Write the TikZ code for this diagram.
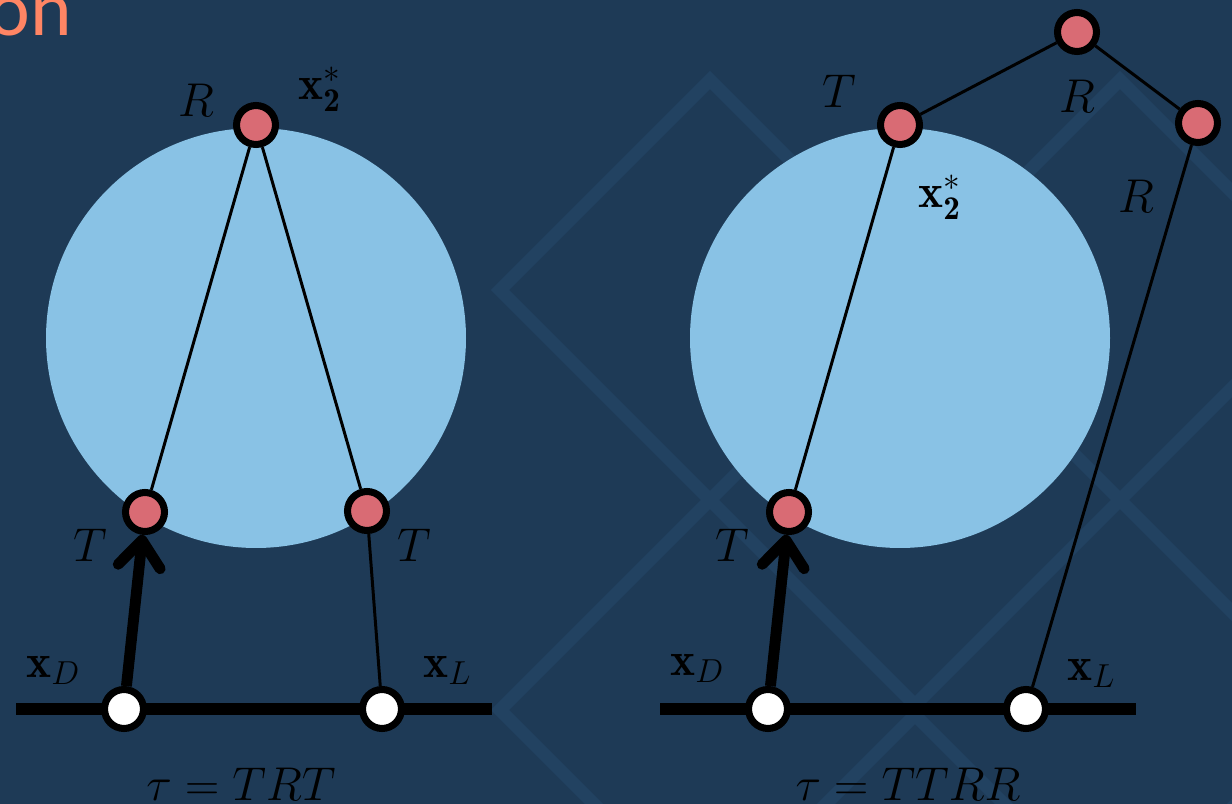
\RequirePackage{fix-cm}
\documentclass[tikz,border=0pt]{standalone}
\usepackage{fontspec}
\newfontfamily\titlefont{Carlito}
\usepackage{amsmath}
\usetikzlibrary{arrows.meta,positioning}
\definecolor{cBack}{RGB}{30,58,86}
\definecolor{cBand}{RGB}{34,66,97}
\definecolor{cDisk}{RGB}{137,194,229}
\definecolor{cPink}{RGB}{217,107,116}
\definecolor{cTitle}{RGB}{255,133,100}
\tikzset{
  basept/.style={circle,draw=black,line width=4pt,minimum size=0.78cm,inner sep=0pt},
  pinknode/.style={basept,fill=cPink},
  whitenode/.style={basept,fill=white},
  lbl/.style={font=\fontsize{27}{32}\selectfont,inner sep=0pt},
  thinln/.style={line width=1.7pt},
  railln/.style={line width=6.8pt},
  thkarr/.style={line width=6.2pt,-{Straight Barb[round,length=15pt,width=24pt]}},
  band/.style={draw=cBand,line width=0.26cm}
}

\begin{document}
\begin{tikzpicture}[x=0.02cm,y=-0.02cm]

  % frame and background
  \useasboundingbox (0,0) rectangle (1232,804);
  \clip (0,0) rectangle (1232,804);
  \fill[cBack] (0,0) rectangle (1232,804);
  \foreach \cx/\cy in {710/290,1120/290,1530/290,710/710,1120/710,1530/710}
    \draw[band] (\cx,\cy-210) -- (\cx+210,\cy) -- (\cx,\cy+210)
      -- (\cx-210,\cy) -- cycle;

  \node[font=\titlefont\fontsize{45}{50}\selectfont,text=cTitle,
        anchor=base west,inner sep=0pt] (title) at (-12,36) {on};

  % left: tau = TRT
  \fill[cDisk] (256,338) circle[radius=210];
  \coordinate (railAw) at (16,709);
  \coordinate (railAe) at (492,709);
  \draw[railln] (railAw) -- (railAe);

  \node[whitenode] (dA) at (124,709) {};
  \node[whitenode] (lA) at (382,709) {};
  \node[pinknode] (t1A) at (145,512) {};
  \node[pinknode] (rA) at (256,125) {};
  \node[pinknode] (t2A) at (367,511) {};

  \draw[thkarr] (dA) -- (t1A);
  \draw[thinln] (t1A) -- (rA);
  \draw[thinln] (rA) -- (t2A);
  \draw[thinln] (t2A) -- (lA);

  \node[lbl] (rlabA) at (196,100) {$R$};
  \node[lbl,anchor=base west] (xsA) at (298,100) {$\mathbf{x}_{\mathbf{2}}^{*}$};
  \node[lbl] (t1labA) at (90,545) {$T$};
  \node[lbl] (t2labA) at (414,545) {$T$};
  \node[lbl,anchor=base west] (xdA) at (26,677) {$\mathbf{x}_D$};
  \node[lbl,anchor=base west] (xlA) at (423,677) {$\mathbf{x}_L$};
  \node[lbl,anchor=base] (tauA) at (241,800) {$\tau = TRT$};

  % right: tau = TTRR
  \fill[cDisk] (900,338) circle[radius=210];
  \coordinate (railBw) at (660,709);
  \coordinate (railBe) at (1136,709);
  \draw[railln] (railBw) -- (railBe);

  \node[whitenode] (dB) at (768,709) {};
  \node[whitenode] (lB) at (1026,709) {};
  \node[pinknode] (t1B) at (789,512) {};
  \node[pinknode] (t2B) at (900,125) {};
  \node[pinknode] (r1B) at (1077,32) {};
  \node[pinknode] (r2B) at (1198,123) {};

  \draw[thkarr] (dB) -- (t1B);
  \draw[thinln] (t1B) -- (t2B);
  \draw[thinln] (t2B) -- (r1B);
  \draw[thinln] (r1B) -- (r2B);
  \draw[thinln] (r2B) -- (lB);

  \node[lbl] (t1labB) at (732,545) {$T$};
  \node[lbl] (t2labB) at (839,91) {$T$};
  \node[lbl] (r1labB) at (1077,96) {$R$};
  \node[lbl] (r2labB) at (1136,196) {$R$};
  \node[lbl,anchor=base west] (xsB) at (918,208) {$\mathbf{x}_{\mathbf{2}}^{*}$};
  \node[lbl,anchor=base west] (xdB) at (670,675) {$\mathbf{x}_D$};
  \node[lbl,anchor=base west] (xlB) at (1067,680) {$\mathbf{x}_L$};
  \node[lbl,anchor=base] (tauB) at (908,800) {$\tau = TTRR$};

\end{tikzpicture}
\end{document}
